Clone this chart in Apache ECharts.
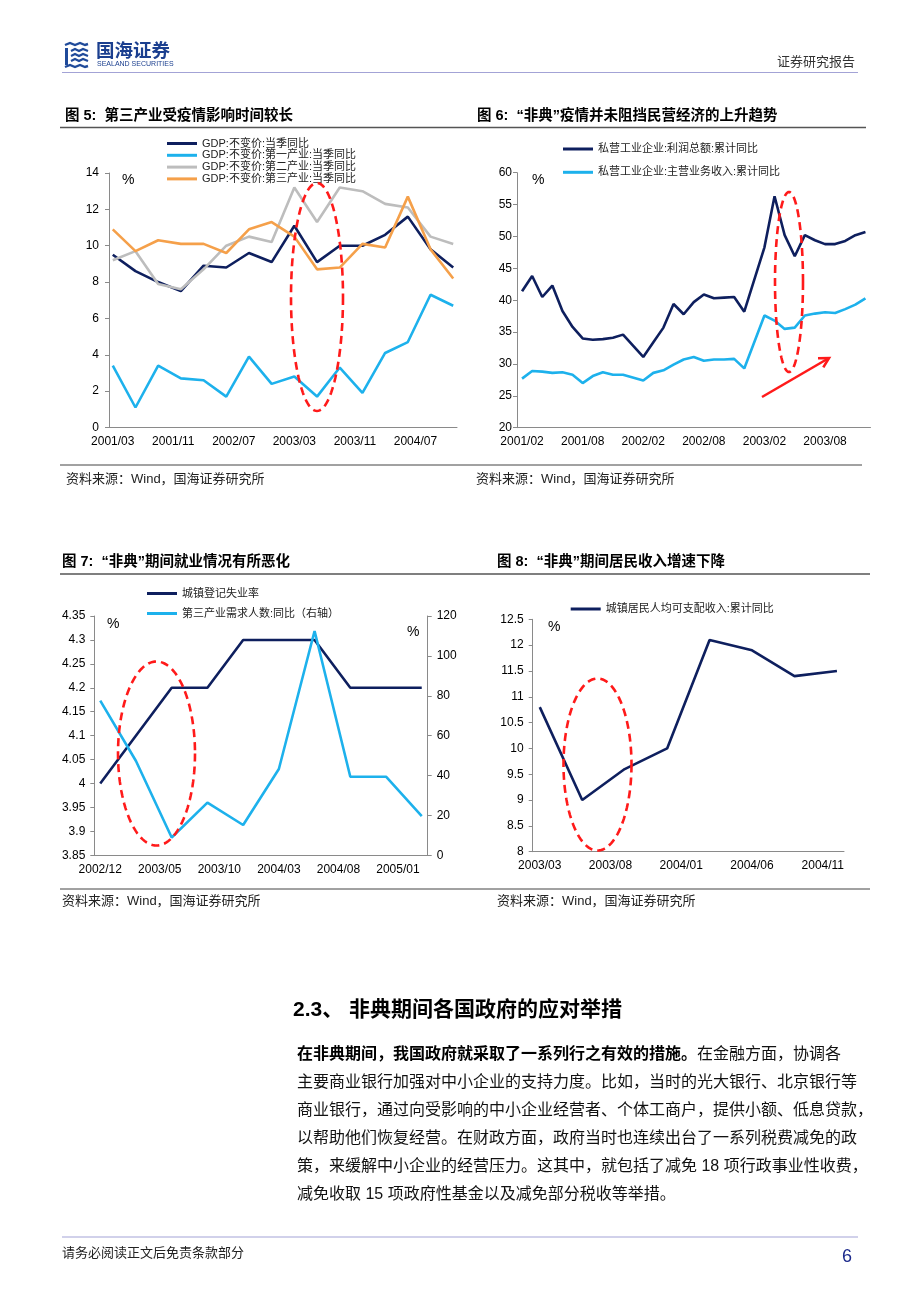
<!DOCTYPE html>
<html><head><meta charset="utf-8">
<script src="https://cdn.jsdelivr.net/npm/echarts@6/dist/echarts.min.js"></script>
<style>html,body{margin:0;padding:0;background:#fff}#c{width:920px;height:1302px}</style>
</head><body><div id="c"></div>
<script>
// ================= DATA =================
// 图5 quarterly GDP growth (%), 2001Q1 .. 2004Q4
const fig5Quarters = ['2001/03','2001/06','2001/09','2001/12','2002/03','2002/06','2002/09','2002/12',
                      '2003/03','2003/06','2003/09','2003/12','2004/03','2004/06','2004/09','2004/12'];
const fig5GDP       = [9.5, 8.6, 8.0, 7.5, 8.9, 8.8, 9.6, 9.1, 11.1, 9.1, 10.0, 10.0, 10.6, 11.6, 9.8, 8.8];
const fig5Primary   = [3.4, 1.1, 3.4, 2.7, 2.6, 1.7, 3.9, 2.4, 2.8, 1.7, 3.3, 1.9, 4.1, 4.7, 7.3, 6.7];
const fig5Secondary = [9.2, 9.7, 7.9, 7.6, 8.7, 10.0, 10.5, 10.2, 13.2, 11.3, 13.2, 13.0, 12.3, 12.1, 10.5, 10.1];
const fig5Tertiary  = [10.9, 9.7, 10.3, 10.1, 10.1, 9.6, 10.9, 11.3, 10.5, 8.7, 8.8, 10.1, 9.9, 12.7, 9.8, 8.2];
const fig5Names = ['GDP:不变价:当季同比','GDP:不变价:第一产业:当季同比','GDP:不变价:第二产业:当季同比','GDP:不变价:第三产业:当季同比'];

// 图6 monthly, 2001/02 .. 2003/12 (null = month not published)
const fig6Profit  = [41.4,43.8,40.5,42.3,38.3,35.8,34.0,33.8,33.9,34.1,34.6,null,31.1,33.4,35.7,39.4,37.8,39.7,
                     40.9,40.3,40.4,40.5,38.2,null,48.3,56.3,50.2,46.9,50.2,49.4,48.8,48.8,49.3,50.2,50.7];
const fig6Revenue = [27.7,28.9,28.8,28.6,28.7,28.3,27.0,28.1,28.7,28.3,28.3,null,27.4,28.6,29.0,29.9,30.7,31.1,
                     30.5,30.7,30.7,30.8,29.3,null,37.6,36.8,35.5,35.7,37.6,37.9,38.1,38.0,38.6,39.3,40.3];
const fig6Names = ['私营工业企业:利润总额:累计同比','私营工业企业:主营业务收入:累计同比'];

// 图7
const fig7UnempDates  = ['2002/12','2003/06','2003/09','2003/12','2004/06','2004/09','2005/03'];
const fig7Unemp       = [4.0, 4.2, 4.2, 4.3, 4.3, 4.2, 4.2];
const fig7DemandDates = ['2002/12','2003/03','2003/06','2003/09','2003/12','2004/03','2004/06','2004/09','2004/12','2005/03'];
const fig7Demand      = [77.6, 47.3, 8.9, 26.4, 15.2, 43.3, 112.5, 39.4, 39.4, 19.7];
const fig7Names = ['城镇登记失业率','第三产业需求人数:同比（右轴）'];

// 图8
const fig8Dates  = ['2003/03','2003/06','2003/09','2003/12','2004/03','2004/06','2004/09','2004/12'];
const fig8Income = [10.8, 9.0, 9.6, 10.0, 12.1, 11.9, 11.4, 11.5];
const fig8Names = ['城镇居民人均可支配收入:累计同比'];

// axis ranges (monthly date axes)
function monthRange(a, b) {
  let [y, m] = a.split('/').map(Number); const [ye, me] = b.split('/').map(Number); const out = [];
  while (y < ye || (y === ye && m <= me)) { out.push(y + '/' + String(m).padStart(2, '0')); m++; if (m > 12) { m = 1; y++; } }
  return out;
}
const fig5Months = monthRange('2001/03', '2004/12');
const fig6Months = monthRange('2001/02', '2003/12');
const fig7Months = monthRange('2002/12', '2005/03');
const fig8Months = monthRange('2003/03', '2004/12');

// ================= STYLE =================
const NUM = "'Liberation Sans', Arial, 'Noto Sans CJK SC', sans-serif";
const CJK = "'Liberation Sans', 'Noto Sans CJK SC', sans-serif";
const NAVY = '#0e1f5e', SKY = '#1db1ec', GRAY = '#bdbdbd', ORANGE = '#f5a04a', AX = '#8a8a8a';

function xCat(gi, data, every) {
  return { type: 'category', gridIndex: gi, data: data, boundaryGap: true,
    axisLine: { lineStyle: { color: AX, width: 1 } },
    axisTick: { inside: true, length: 4, interval: every - 1, lineStyle: { color: AX } },
    axisLabel: { interval: every - 1, margin: 8, fontSize: 12, color: '#000', fontFamily: NUM },
    splitLine: { show: false } };
}
function yVal(gi, min, max, iv, margin, pos) {
  return { type: 'value', gridIndex: gi, min: min, max: max, interval: iv, position: pos || 'left',
    axisLine: { show: true, lineStyle: { color: AX, width: 1 } },
    axisTick: { show: true, length: 4, lineStyle: { color: AX } },
    axisLabel: { margin: margin, fontSize: 12, color: '#000', fontFamily: NUM,
      formatter: v => String(+v.toFixed(2)) },
    splitLine: { show: false } };
}
function line(name, xi, yi, data, color) {
  return { type: 'line', name: name, xAxisIndex: xi, yAxisIndex: yi, data: data, symbol: 'none',
    connectNulls: true, lineStyle: { color: color, width: 2.6 }, itemStyle: { color: color }, animation: false };
}
const pair = (dates, vals) => dates.map((d, i) => [d, vals[i]]);

function legend(names, left, top, gap) {
  return { data: names, left: left, top: top, orient: 'vertical', icon: 'rect', itemWidth: 30, itemHeight: 3, itemGap: gap,
    selectedMode: false, padding: 0, textStyle: { fontSize: 11, lineHeight: 11, color: '#222', fontFamily: CJK } };
}

// ================= GRAPHIC (page text & annotations) =================
const G = [];
function txt(x, y, text, size, o) {
  o = o || {};
  G.push({ type: 'text', x: x, y: y, silent: true, z: 10,
    style: { text: text, fontSize: size, fontFamily: o.family || CJK, fontWeight: o.bold ? 'bold' : 'normal',
      fill: o.color || '#111', align: o.align || 'left', verticalAlign: 'middle', rich: o.rich } });
}
function hline(x1, x2, y, color, w) {
  G.push({ type: 'line', silent: true, shape: { x1: x1, y1: y, x2: x2, y2: y }, style: { stroke: color, lineWidth: w } });
}
function ellipse(cx, cy, rx, ry) {
  const pts = [];
  for (let i = 0; i < 120; i++) { const a = i / 120 * Math.PI * 2; pts.push([cx + rx * Math.cos(a), cy + ry * Math.sin(a)]); }
  G.push({ type: 'polygon', silent: true, z: 20, shape: { points: pts },
    style: { fill: 'transparent', stroke: '#ff1a1a', lineWidth: 2.6, lineDash: [8, 5] } });
}
function arrow(x1, y1, x2, y2) {
  G.push({ type: 'line', silent: true, z: 20, shape: { x1: x1, y1: y1, x2: x2, y2: y2 }, style: { stroke: '#ff1a1a', lineWidth: 2.6 } });
  const a = Math.atan2(y2 - y1, x2 - x1), L = 11;
  G.push({ type: 'polyline', silent: true, z: 20,
    shape: { points: [[x2 - L * Math.cos(a - 0.5), y2 - L * Math.sin(a - 0.5)], [x2, y2], [x2 - L * Math.cos(a + 0.5), y2 - L * Math.sin(a + 0.5)]] },
    style: { stroke: '#ff1a1a', lineWidth: 2.6, fill: null } });
}

// header logo
const LB = '#1f4a9a';
G.push({ type: 'group', x: 65, y: 43, silent: true, children: [
  { type: 'polyline', shape: { points: [[0,2],[5,0],[10,2],[15,0],[20,2],[23,1]] }, style: { stroke: LB, lineWidth: 2.4, fill: null } },
  { type: 'rect', shape: { x: 0, y: 5, width: 3, height: 17 }, style: { fill: LB } },
  { type: 'polyline', shape: { points: [[6,8],[10,6],[14,8],[18,6],[23,8]] }, style: { stroke: LB, lineWidth: 2.2, fill: null } },
  { type: 'polyline', shape: { points: [[6,13],[10,11],[14,13],[18,11],[23,13]] }, style: { stroke: LB, lineWidth: 2.2, fill: null } },
  { type: 'polyline', shape: { points: [[6,18],[10,16],[14,18],[18,16],[23,18]] }, style: { stroke: LB, lineWidth: 2.2, fill: null } },
  { type: 'polyline', shape: { points: [[0,24],[5,22],[10,24],[15,22],[20,24],[23,23]] }, style: { stroke: LB, lineWidth: 2.4, fill: null } }
]});
txt(96, 52, '国海证券', 18.5, { bold: true, color: '#1b3f8f' });
txt(97, 64, 'SEALAND SECURITIES', 7, { color: '#1b3f8f', family: NUM });
txt(855, 62, '证券研究报告', 13, { align: 'right', color: '#333' });
hline(62, 858, 72.5, '#a3a3d6', 1);

// figure titles
txt(65, 116, '图 5:  第三产业受疫情影响时间较长', 14.5, { bold: true, color: '#000' });
txt(477, 116, '图 6:  “非典”疫情并未阻挡民营经济的上升趋势', 14.5, { bold: true, color: '#000' });
hline(60, 866, 127.5, '#555', 1.3);
txt(62, 562, '图 7:  “非典”期间就业情况有所恶化', 14.5, { bold: true, color: '#000' });
txt(497, 562, '图 8:  “非典”期间居民收入增速下降', 14.5, { bold: true, color: '#000' });
hline(60, 870, 574, '#555', 1.3);

// sources
hline(60, 862, 465, '#444', 1);
txt(66, 479, '资料来源：Wind，国海证券研究所', 13, { color: '#222' });
txt(476, 479, '资料来源：Wind，国海证券研究所', 13, { color: '#222' });
hline(60, 870, 889, '#444', 1);
txt(62, 901, '资料来源：Wind，国海证券研究所', 13, { color: '#222' });
txt(497, 901, '资料来源：Wind，国海证券研究所', 13, { color: '#222' });

// % unit labels
txt(122, 180, '%', 14, { family: NUM, color: '#000' });
txt(532, 180, '%', 14, { family: NUM, color: '#000' });
txt(107, 624, '%', 14, { family: NUM, color: '#000' });
txt(407, 632, '%', 14, { family: NUM, color: '#000' });
txt(548, 627, '%', 14, { family: NUM, color: '#000' });

// annotations
ellipse(317, 297, 26, 114);
ellipse(789, 282, 14, 90);
arrow(762, 397, 829, 358);
ellipse(156.5, 753.5, 38.5, 92);
ellipse(597.5, 764.5, 34, 86);

// section text
txt(293, 1010, '2.3、 非典期间各国政府的应对举措', 21, { bold: true, color: '#000' });
const para = [
  '{b|在非典期间，我国政府就采取了一系列行之有效的措施。}在金融方面，协调各',
  '主要商业银行加强对中小企业的支持力度。比如，当时的光大银行、北京银行等',
  '商业银行，通过向受影响的中小企业经营者、个体工商户，提供小额、低息贷款，',
  '以帮助他们恢复经营。在财政方面，政府当时也连续出台了一系列税费减免的政',
  '策，来缓解中小企业的经营压力。这其中，就包括了减免 18 项行政事业性收费，',
  '减免收取 15 项政府性基金以及减免部分税收等举措。'
];
para.forEach((t, i) => txt(297, 1055 + i * 28, t, 16, { color: '#111',
  rich: { b: { fontWeight: 'bold', fontSize: 16, fontFamily: CJK, fill: '#000' } } }));

// footer
hline(62, 858, 1237, '#a3a3d6', 1);
txt(62, 1253, '请务必阅读正文后免责条款部分', 13, { color: '#222' });
txt(852, 1257, '6', 18, { family: NUM, color: '#1c2a8c', align: 'right' });

// ================= CHART =================
const chart = echarts.init(document.getElementById('c'), null, { renderer: 'canvas' });
chart.setOption({
  animation: false,
  backgroundColor: '#fff',
  grid: [
    { left: 109, top: 173, width: 348, height: 254.5, outerBoundsMode: 'none', containLabel: false },
    { left: 517, top: 172.7, width: 353.5, height: 255, outerBoundsMode: 'none', containLabel: false },
    { left: 94.3, top: 616, width: 333.4, height: 239.3, outerBoundsMode: 'none', containLabel: false },
    { left: 532.7, top: 619.3, width: 311.3, height: 232.4, outerBoundsMode: 'none', containLabel: false }
  ],
  xAxis: [ xCat(0, fig5Months, 8), xCat(1, fig6Months, 6), xCat(2, fig7Months, 5), xCat(3, fig8Months, 5) ],
  yAxis: [
    yVal(0, 0, 14, 2, 10),
    yVal(1, 20, 60, 5, 5),
    yVal(2, 3.85, 4.35, 0.05, 9),
    yVal(2, 0, 120, 20, 9, 'right'),
    yVal(3, 8, 12.5, 0.5, 9)
  ],
  legend: [
    legend(fig5Names, 167, 138, 0.8),
    legend(fig6Names, 563, 143.5, 12.3),
    legend(fig7Names, 147, 588, 9),
    legend(fig8Names, 570.7, 603.5, 5)
  ],
  series: [
    line(fig5Names[0], 0, 0, pair(fig5Quarters, fig5GDP), NAVY),
    line(fig5Names[1], 0, 0, pair(fig5Quarters, fig5Primary), SKY),
    line(fig5Names[2], 0, 0, pair(fig5Quarters, fig5Secondary), GRAY),
    line(fig5Names[3], 0, 0, pair(fig5Quarters, fig5Tertiary), ORANGE),
    line(fig6Names[0], 1, 1, fig6Profit, NAVY),
    line(fig6Names[1], 1, 1, fig6Revenue, SKY),
    line(fig7Names[0], 2, 2, pair(fig7UnempDates, fig7Unemp), NAVY),
    line(fig7Names[1], 2, 3, pair(fig7DemandDates, fig7Demand), SKY),
    line(fig8Names[0], 3, 4, pair(fig8Dates, fig8Income), NAVY)
  ],
  graphic: G
});
</script></body></html>
